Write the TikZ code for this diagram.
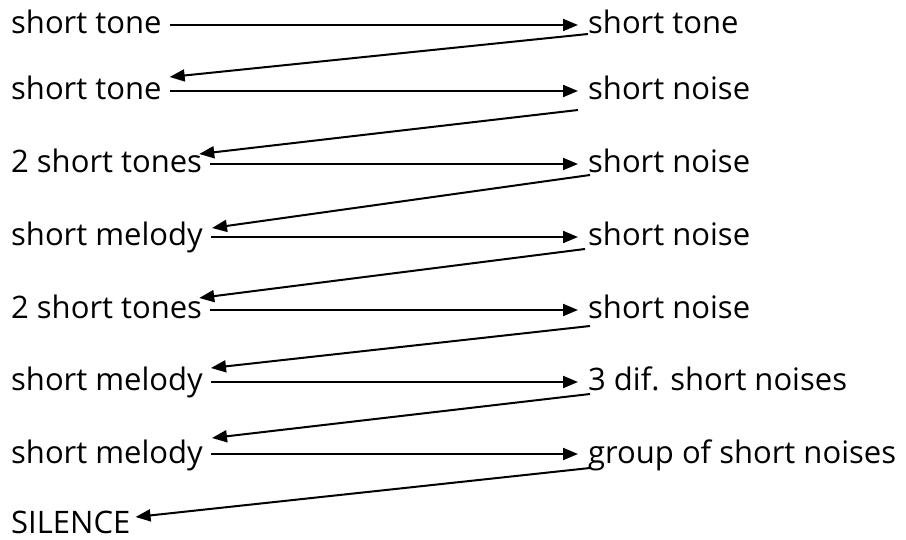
\documentclass[tikz,border=0pt]{standalone}
\usepackage{fontspec}
\setmainfont{Open Sans}
\usetikzlibrary{arrows.meta,calc}
\begin{document}
\begin{tikzpicture}[x=1pt,y=-1pt,
  lbl/.style={inner sep=0pt,anchor=base west,font=\fontsize{31}{33}\selectfont},
  conn/.style={line width=2pt,-{Triangle[length=15pt,width=12pt]}}]
\useasboundingbox (0,0) rectangle (906,540);
% left column (baselines)
\node[lbl] (L1) at (11,34) {short tone};
\node[lbl] (L2) at (11,100) {short tone};
\node[lbl] (L3) at (11,173) {2 short tones};
\node[lbl] (L4) at (11,246) {short melody};
\node[lbl] (L5) at (11,319) {2 short tones};
\node[lbl] (L6) at (11,391) {short melody};
\node[lbl] (L7) at (11,463) {short melody};
\node[lbl] (L8) at (11,533) {SILENCE};
% right column
\node[lbl] (R1) at (588,34) {short tone};
\node[lbl] (R2) at (588,100) {short noise};
\node[lbl] (R3) at (588,173) {short noise};
\node[lbl] (R4) at (588,246) {short noise};
\node[lbl] (R5) at (588,319) {short noise};
\node[lbl] (R6) at (588,391) {3 dif. short noises};
\node[lbl] (R7) at (588,463) {group of short noises};
% horizontal arrows
\foreach \i in {1,...,7}{
  \draw[conn] ($(L\i.base east)+(8,-9)$) -- ($(R\i.base west)+(-10,-9)$);
}
% diagonal arrows back
\draw[conn] ($(R1.base west)+(0,0)$)  -- ($(L2.base east)+(8,-23)$);
\draw[conn] ($(R2.base west)+(-10,10)$) -- ($(L3.base east)+(-3,-19)$);
\draw[conn] ($(R3.base west)+(2,2)$) -- ($(L4.base east)+(9,-18)$);
\draw[conn] ($(R4.base west)+(-3,3)$) -- ($(L5.base east)+(-3,-21)$);
\draw[conn] ($(R5.base west)+(2,7)$) -- ($(L6.base east)+(8,-23)$);
\draw[conn] ($(R6.base west)+(2,3)$) -- ($(L7.base east)+(9,-25)$);
\draw[conn] ($(R7.base west)+(2,5)$) -- ($(L8.base east)+(5,-16)$);
\end{tikzpicture}
\end{document}
